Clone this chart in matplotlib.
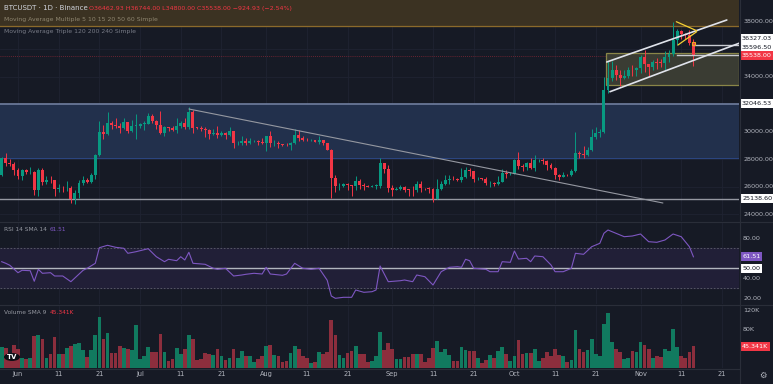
import matplotlib
matplotlib.use("Agg")
import matplotlib.pyplot as plt
from matplotlib.patches import Rectangle, Circle
import numpy as np

# --- canvas ---
W, H = 773, 384
BG = '#161a25'
GRID = '#1f2331'
TXT = '#b2b5be'
UP = '#089981'
DOWN = '#f23645'

# --- daily BTCUSDT candles, 28 May .. 14 Nov 2023 ---
first_open = 26868
closes = [28075, 27745, 27702, 27219, 26819, 27249, 27075, 27119, 25760, 27238,
          26345, 26498, 26477, 25841, 25925, 25902, 25920, 25124, 25576, 26327,
          26510, 26340, 26845, 28307, 29993, 29885, 30688, 30527, 30463, 30267,
          30692, 30077, 30446, 30472, 30586, 30617, 31156, 30767, 30504, 29895,
          30346, 30292, 30171, 30414, 30620, 30380, 31454, 30312, 30289, 30231,
          30139, 29860, 29910, 29800, 29902, 29793, 30083, 29176, 29228, 29354,
          29210, 29317, 29357, 29276, 29230, 29705, 29186, 29193, 29114, 29085,
          29042, 29183, 29765, 29562, 29430, 29397, 29415, 29283, 29409, 29170,
          28701, 26622, 26050, 26090, 26188, 26125, 26042, 26432, 26161, 26052,
          26006, 26088, 26105, 27727, 27298, 25941, 25801, 25869, 25970, 25813,
          25780, 25753, 26241, 25905, 25895, 25833, 25163, 25835, 26228, 26533,
          26608, 26568, 26528, 26760, 27211, 27132, 26568, 26580, 26579, 26256,
          26298, 26211, 26352, 27021, 26911, 26967, 27983, 27494, 27426, 27778,
          27410, 27931, 27956, 27917, 27590, 27392, 26873, 26756, 26862, 26852,
          27154, 28500, 28395, 28320, 28713, 29669, 29909, 29992, 33086, 33901,
          34502, 34156, 33909, 34089, 34531, 34490, 34639, 35421, 34941, 34730,
          35082, 35049, 35037, 35443, 35655, 36693, 37313, 37138, 37054, 36462,
          35538]
highs = [28200, 28447, 28038, 27831, 27350, 27300, 27317, 27455, 27130, 27355,
         27399, 26800, 26783, 26531, 26200, 26087, 26430, 26080, 25750, 26474,
         26773, 26680, 27000, 28400, 30800, 30500, 31431, 30800, 31046, 30662,
         31000, 30703, 30838, 31282, 30658, 30784, 31375, 31322, 30883, 31500,
         30450, 30386, 30450, 31046, 30800, 30990, 31804, 31630, 30390, 30440,
         30340, 30244, 30190, 30416, 30050, 29997, 30350, 30099, 29380, 29690,
         29570, 29530, 29415, 29450, 29530, 29744, 30047, 29411, 29320, 29118,
         29170, 29247, 30245, 30130, 29714, 29540, 29475, 29450, 29680, 29444,
         29231, 28780, 26838, 26277, 26300, 26258, 26136, 26818, 26575, 26311,
         26125, 26175, 26245, 28142, 27756, 27580, 26150, 25980, 26126, 26080,
         25858, 26050, 26450, 26431, 25945, 25980, 25900, 26550, 26400, 26850,
         26888, 26777, 26630, 27409, 27487, 27380, 27160, 26740, 26643, 26740,
         26430, 26388, 26830, 27300, 27225, 27090, 28065, 28580, 27675, 27836,
         28120, 28295, 28030, 28100, 27987, 27735, 27480, 26947, 27100, 26964,
         27290, 30000, 28612, 28980, 28934, 30200, 30340, 30230, 34000, 35198,
         35133, 34840, 34500, 34500, 34750, 34840, 34720, 35580, 35984, 34942,
         35250, 35380, 35279, 35900, 35980, 37972, 37526, 37411, 37227, 37420,
         36744]
lows = [26766, 27524, 27555, 26841, 26605, 26500, 26916, 26951, 25388, 25350,
        26123, 26207, 26269, 25370, 25634, 25648, 25719, 24820, 24756, 25170,
        26178, 26260, 26256, 26600, 28266, 29525, 29800, 30250, 30290, 29930,
        30224, 29900, 30036, 29500, 30320, 30166, 30587, 30633, 30202, 29850,
        29701, 30044, 30061, 29950, 30265, 30200, 30250, 29940, 30250, 30075,
        29660, 29500, 29750, 29565, 29720, 29525, 29730, 28861, 29020, 29083,
        29070, 29125, 29260, 29034, 29100, 28585, 28942, 28956, 28800, 28960,
        28978, 28701, 29132, 29350, 29315, 29320, 29355, 29250, 29100, 29056,
        28701, 25166, 25600, 25790, 25970, 25800, 25350, 25796, 25850, 25777,
        25970, 25965, 25880, 25920, 27000, 25655, 25333, 25750, 25800, 25630,
        25380, 25350, 25600, 25646, 25810, 25550, 24901, 25131, 25750, 26126,
        26224, 26475, 26400, 26378, 26673, 26800, 26360, 26500, 26500, 26140,
        25990, 26090, 26117, 26340, 26667, 26880, 26954, 27280, 27160, 27212,
        27332, 27175, 27850, 27700, 27260, 27300, 26557, 26533, 26700, 26810,
        26800, 27120, 28080, 28140, 28220, 28600, 29460, 29670, 29900, 32860,
        33690, 33750, 33330, 33850, 33940, 34080, 34075, 34300, 34356, 34100,
        34530, 34560, 34730, 34520, 35100, 35536, 36333, 36740, 36760, 36318,
        34800]
opens = [first_open] + closes[:-1]

# volume in thousands of BTC
volumes = [45, 42, 30, 48, 41, 20, 18, 21, 67, 69, 61, 21, 29, 65, 30, 30, 42, 46, 50, 52,
           37, 23, 37, 70, 108, 60, 74, 32, 32, 46, 43, 40, 38, 90, 19, 25, 45, 34, 34, 72,
           33, 15, 18, 42, 29, 41, 70, 61, 16, 18, 32, 30, 27, 39, 25, 16, 20, 41, 22, 35,
           25, 25, 13, 18, 25, 46, 48, 27, 25, 13, 14, 32, 47, 40, 25, 22, 11, 13, 33, 29,
           34, 100, 70, 27, 22, 32, 35, 46, 30, 29, 12, 14, 25, 75, 37, 52, 41, 18, 19, 23,
           23, 29, 29, 30, 13, 20, 43, 57, 33, 39, 27, 15, 15, 44, 37, 35, 35, 20, 11, 16,
           27, 20, 35, 45, 29, 14, 26, 58, 30, 31, 31, 39, 15, 21, 33, 25, 39, 27, 25, 12,
           16, 79, 40, 34, 37, 60, 29, 25, 93, 115, 55, 41, 34, 18, 22, 35, 34, 54, 48, 40,
           20, 26, 23, 39, 35, 83, 45, 25, 20, 34, 45.341]

# RSI 14 (bar index, value)
rsi_idx = [0, 1, 2, 4, 5, 7, 8, 9, 10, 12, 13, 15, 17, 20, 21, 23, 24, 26, 28, 30,
           31, 33, 36, 38, 40, 41, 43, 44, 45, 46, 47, 50, 52, 53, 55, 57, 59, 60, 62, 64,
           65, 66, 69, 70, 72, 74, 76, 78, 80, 81, 82, 84, 86, 87, 89, 91, 92, 93, 95, 98,
           99, 101, 102, 104, 106, 108, 110, 112, 113, 114, 115, 116, 119, 120, 122, 123, 125, 126, 127, 129,
           130, 131, 133, 135, 136, 138, 140, 141, 143, 145, 147, 148, 149, 153, 155, 157, 159, 161, 163, 165,
           167, 169, 170]
rsi_val = [56.6, 55, 53, 45.6, 48, 47.6, 37, 49, 45, 45.6, 42.3, 42.3, 36.6, 48, 50, 55, 70.6, 73, 71, 70,
           65, 66.6, 69.6, 61.6, 56.6, 59, 57.6, 61.6, 58.3, 66, 55, 54, 50, 49, 50, 42.3, 43.3, 44, 45, 44.3,
           51, 44.3, 43, 44.3, 55, 50, 49, 50, 38, 22.3, 20, 21, 21, 28.3, 26, 26.6, 28.3, 52.3, 36.6, 37.6,
           38.3, 36.6, 43.3, 41.6, 33.3, 46.6, 51, 51.6, 51, 59, 57.6, 50, 49, 46.6, 46.6, 56.6, 56, 67.3, 59.3, 60,
           56.6, 62.3, 61.6, 53.3, 46.6, 46.6, 50, 65, 64, 71.6, 75, 85, 88.3, 81.6, 82.3, 84.3, 76.6, 76, 78.3, 84.3,
           81.6, 71.6, 61.51]

# time axis
tick_idx = [4, 14, 24, 34, 44, 54, 65, 75, 85, 96, 106, 116, 126, 136, 146, 157, 167, 177]
tick_lbl = ['Jun', '11', '21', 'Jul', '11', '21', 'Aug', '11', '21', 'Sep', '11', '21',
            'Oct', '11', '21', 'Nov', '11', '21']

# price levels / drawings (bar index, price)
price_ticks = [38000, 34000, 30000, 28000, 26000, 24000]
grid_prices = [24000, 26000, 28000, 30000, 32000, 34000, 36000, 38000]
supply_zone = (37709, 40000)
demand_zone = (28131, 32046.53)
support = 25138.60
box_zone = (148.5, 33418, 35745)
ray_levels = [(170, 36327.03), (166, 35596.50)]
down_trend = [(46, 31673), (162.5, 24836)]
chan_upper = [(148.7, 35091), (178.2, 38145)]
chan_lower = [(149.5, 32931), (181.4, 36473)]
pennant_top = [(165.8, 38022), (170.8, 37367)]
pennant_bot = [(166.2, 36327), (170.8, 37295)]

XMIN, XMAX = -0.42, 181.2

fig = plt.figure(figsize=(W / 100, H / 100), dpi=100, facecolor=BG)


def px_axes(x0, y0, x1, y1):
    a = fig.add_axes([x0 / W, 1 - y1 / H, (x1 - x0) / W, (y1 - y0) / H])
    a.set_facecolor(BG)
    for s in a.spines.values():
        s.set_visible(False)
    a.set_xlim(XMIN, XMAX)
    a.set_xticks([])
    a.set_yticks([])
    for t in tick_idx:
        a.axvline(t, color=GRID, lw=0.6, zorder=0)
    return a


def ftext(x, y, s, **kw):
    kw.setdefault('va', 'center')
    fig.text(x / W, 1 - y / H, s, **kw)


idx = np.arange(len(closes))
o = np.array(opens, float)
c = np.array(closes, float)
up = c >= o
cols = np.where(up, UP, DOWN)

# ---------------- main pane ----------------
ax = px_axes(0, 0, 739, 221)
ax.set_ylim(23527, 39600)
for p in grid_prices:
    ax.axhline(p, color=GRID, lw=0.6, zorder=0)

ax.axhspan(supply_zone[0], supply_zone[1], color='#3b3222', zorder=1)
ax.axhline(supply_zone[0], color='#8b6a2b', lw=0.9, zorder=2)
ax.axhspan(demand_zone[0], demand_zone[1], color='#22304c', zorder=1)
ax.axhline(demand_zone[1], color='#6f7e9e', lw=1.2, zorder=2)
ax.axhline(demand_zone[0], color='#2d4a8a', lw=0.6, zorder=2)
ax.axhline(support, color='#9598a1', lw=1.0, zorder=2)
ax.axhline(closes[-1], color='#f23645', lw=0.6, ls=(0, (1, 1.5)), alpha=0.5, zorder=2)

bx, b0, b1 = box_zone
ax.add_patch(Rectangle((bx, b0), XMAX - bx, b1 - b0, fc='#3a3c33', ec='#8a8648', lw=0.9, zorder=2))
for start, lvl in ray_levels:
    ax.plot([start, XMAX], [lvl, lvl], color='#c8cad0', lw=1.0, zorder=4)

ax.vlines(idx, lows, highs, colors=cols, lw=0.7, zorder=3)
ax.bar(idx, np.maximum(np.abs(c - o), 45), bottom=np.minimum(o, c), width=0.72,
       color=cols, zorder=3)

for line, colr, lw in [(down_trend, '#9598a1', 0.8), (chan_upper, '#e0e3eb', 1.2),
                       (chan_lower, '#e0e3eb', 1.2), (pennant_top, '#f5d033', 0.9),
                       (pennant_bot, '#f5d033', 0.9)]:
    ax.plot([line[0][0], line[1][0]], [line[0][1], line[1][1]], color=colr, lw=lw,
            zorder=5, solid_capstyle='round')
ax.add_patch(Rectangle((169.6, 36300), 0.9, 230, fc='none', ec='#f5a623', lw=0.8, zorder=6))

ytr = ax.get_yaxis_transform()
for p in price_ticks:
    ax.text(1.0055, p, f'{p:.2f}', transform=ytr, fontsize=4.6, color=TXT, va='center',
            ha='left', clip_on=False)


def price_box(a, val, txt, fc, tc, dy=0):
    a.annotate(txt, xy=(1.0, val), xycoords=a.get_yaxis_transform(), xytext=(2.2, dy),
               textcoords='offset points', fontsize=4.6, color=tc, va='center', ha='left',
               bbox=dict(boxstyle='square,pad=0.3', fc=fc, ec='none'), annotation_clip=False,
               zorder=10)


price_box(ax, demand_zone[1], '32046.53', 'white', '#131722')
price_box(ax, support, '25138.60', 'white', '#131722')
price_box(ax, 36327.03, '36327.03', 'white', '#131722', dy=4.4)
price_box(ax, 35596.50, '35596.50', 'white', '#131722', dy=5.6)
price_box(ax, closes[-1], '35538.00', DOWN, 'white', dy=0)

# ---------------- RSI pane ----------------
rx = px_axes(0, 222, 739, 304)
rx.set_ylim(14.3, 96.3)
rx.axhspan(30, 70, color='#211f37', zorder=1)
rx.axhline(70, color='#5d606b', lw=0.6, ls=(0, (2, 2)), zorder=2)
rx.axhline(30, color='#5d606b', lw=0.6, ls=(0, (2, 2)), zorder=2)
rx.axhline(50, color='#b2b5be', lw=1.0, zorder=2)
rx.plot(rsi_idx, rsi_val, color='#7e57c2', lw=0.8, zorder=4)
rtr = rx.get_yaxis_transform()
for p in [80, 40, 20]:
    rx.text(1.0055, p, f'{p:.2f}', transform=rtr, fontsize=4.6, color=TXT, va='center', clip_on=False)
price_box(rx, 50, '50.00', 'white', '#131722')
price_box(rx, rsi_val[-1], f'{rsi_val[-1]:.2f}', '#7e57c2', 'white')

# ---------------- volume pane ----------------
vx = px_axes(0, 306, 739, 368)
vx.set_ylim(0, 130.5)
vcols = np.where(up, '#117a5f', '#8c2e3d')
vx.bar(idx, volumes, width=0.9, color=vcols, zorder=3)
vtr = vx.get_yaxis_transform()
for p in [120, 80]:
    vx.text(1.0055, p, f'{p}K', transform=vtr, fontsize=4.6, color=TXT, va='center', clip_on=False)
price_box(vx, volumes[-1], f'{volumes[-1]:.3f}K', DOWN, 'white')

vx.set_xticks(tick_idx)
vx.set_xticklabels(tick_lbl)
vx.tick_params(axis='x', length=0, pad=2.5, labelsize=4.8, labelcolor=TXT)

# pane separators
for y in [221.5, 305]:
    fig.add_artist(plt.Line2D([0, 1], [1 - y / H, 1 - y / H], color='#2a2e39', lw=0.8))
fig.add_artist(plt.Line2D([739.5 / W, 739.5 / W], [0, 1], color='#2a2e39', lw=0.8))
fig.add_artist(plt.Line2D([0, 739.5 / W], [1 - 368.5 / H, 1 - 368.5 / H], color='#2a2e39', lw=0.8))

# ---------------- legends ----------------
ftext(4, 8.5, 'BTCUSDT · 1D · Binance', fontsize=5.0, color='#d1d4dc')
ftext(89, 8.5, 'O36462.93 H36744.00 L34800.00 C35538.00 −924.93 (−2.54%)', fontsize=4.5, color=DOWN)
ftext(4, 19.5, 'Moving Average Multiple 5 10 15 20 50 60 Simple', fontsize=4.4, color='#8f8670')
ftext(4, 31.5, 'Moving Average Triple 120 200 240 Simple', fontsize=4.4, color='#787b86')
ftext(4, 229.5, 'RSI 14 SMA 14', fontsize=4.2, color='#9598a1')
ftext(50, 229.5, f'{rsi_val[-1]:.2f}', fontsize=4.2, color='#7e57c2')
ftext(4, 312.5, 'Volume SMA 9', fontsize=4.2, color='#9598a1')
ftext(50, 312.5, f'{volumes[-1]:.3f}K', fontsize=4.2, color=DOWN)

# logo + gear
fig.add_artist(Circle((12 / W, 1 - 357 / H), 8 / W, transform=fig.transFigure, fc='#0c0e15', ec='none'))
ftext(12, 357, 'TV', fontsize=5, color='white', ha='center', weight='bold')
ftext(763, 375, '⚙', fontsize=6, color=TXT, ha='center')

fig.savefig('out.png', dpi=100, facecolor=BG)
